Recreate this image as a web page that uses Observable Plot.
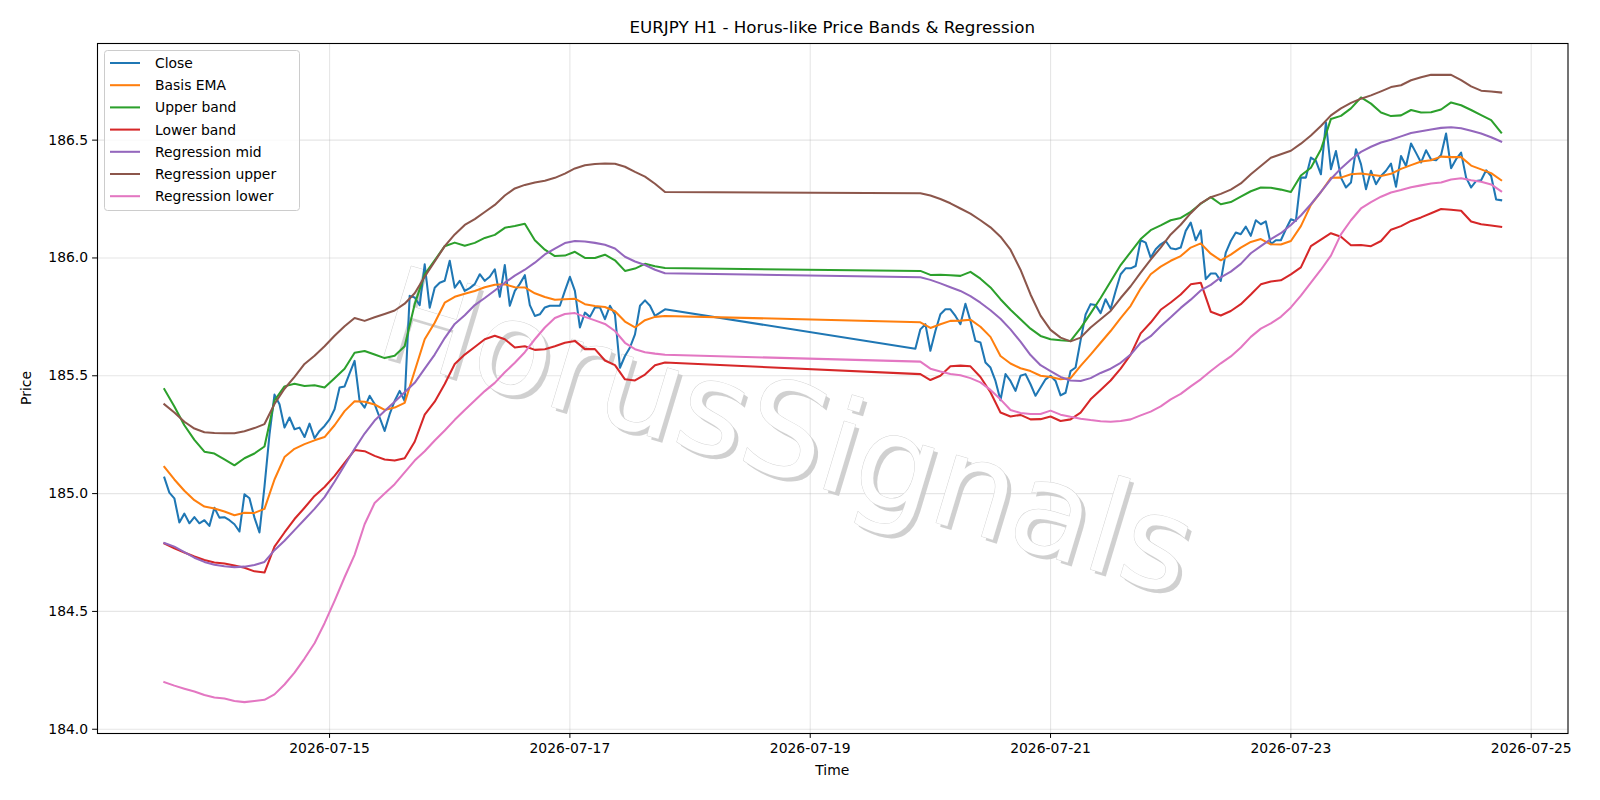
<!DOCTYPE html>
<html>
<head>
<meta charset="utf-8">
<script src="https://cdn.jsdelivr.net/npm/d3@7"></script>
<script src="https://cdn.jsdelivr.net/npm/@observablehq/plot@0.6"></script>
<style>
  html, body { margin: 0; padding: 0; background: #ffffff; }
  #fig { position: relative; width: 1600px; height: 800px; font-family: "DejaVu Sans", sans-serif; }
</style>
</head>
<body>
<div id="fig"></div>
<script>
// EURJPY hourly closes, two trading stretches split by the weekend.
const closeStart1 = "2026-07-13T15:00Z";
const closeSeg1 = [
  185.068, 185.004, 184.98, 184.877, 184.915, 184.874, 184.90, 184.874, 184.887, 184.863,
  184.94, 184.898, 184.90, 184.887, 184.87, 184.839, 184.997, 184.98, 184.898, 184.835,
  185.03, 185.25, 185.42, 185.379, 185.28, 185.323, 185.273, 185.28, 185.24, 185.297,
  185.235, 185.266, 185.287,
  185.315, 185.358, 185.45, 185.455, 185.51, 185.563, 185.393, 185.365, 185.415, 185.38,
  185.323, 185.266, 185.337, 185.393, 185.436, 185.393, 185.839, 185.832, 185.80, 185.973,
  185.789, 185.874, 185.895, 185.903, 185.988, 185.874, 185.903, 185.86, 185.872, 185.889,
  185.931, 185.903, 185.92, 185.952, 185.835, 185.97, 185.797, 185.86, 185.89, 185.927,
  185.80, 185.754, 185.761, 185.79, 185.797, 185.797, 185.797, 185.86, 185.92, 185.86,
  185.705, 185.768, 185.75, 185.79, 185.79, 185.74, 185.797, 185.76, 185.534, 185.584,
  185.62, 185.676, 185.797, 185.82, 185.797, 185.754, 185.768, 185.782
];
const closeStart2 = "2026-07-19T21:00Z";
const closeSeg2 = [
  185.615, 185.697, 185.719, 185.606, 185.69, 185.761, 185.782, 185.782, 185.754, 185.719,
  185.806, 185.733, 185.648, 185.641, 185.556, 185.535, 185.478, 185.396, 185.507, 185.478,
  185.436, 185.5, 185.507, 185.464, 185.415, 185.45, 185.485, 185.5, 185.478, 185.417,
  185.428, 185.52, 185.535, 185.65, 185.76, 185.804, 185.80, 185.766, 185.825, 185.783,
  185.86, 185.931, 185.956, 185.956, 185.966, 186.075, 186.065, 186.001, 186.037, 186.058,
  186.072, 186.041, 186.037, 186.044, 186.115, 186.15, 186.075, 186.117, 185.91, 185.934,
  185.934, 185.903, 186.023, 186.072, 186.108, 186.101, 186.133, 186.094, 186.16, 186.143,
  186.155, 186.058, 186.075, 186.075, 186.122, 186.164, 186.157, 186.341, 186.341, 186.426,
  186.412, 186.355, 186.575, 186.377, 186.454, 186.341, 186.299, 186.32, 186.461, 186.398,
  186.292, 186.37, 186.313, 186.348, 186.37, 186.4, 186.302, 186.433, 186.39, 186.486,
  186.446, 186.405, 186.457, 186.418, 186.415, 186.437, 186.528, 186.381, 186.419, 186.447,
  186.341, 186.299, 186.327, 186.33, 186.372, 186.348, 186.248, 186.245
];

// Band and regression lines, sampled every 2 hours:
// first 51 values from 2026-07-13 15:00, the rest from 2026-07-19 22:00.
const bandStart1 = "2026-07-13T15:00Z";
const bandStart2 = "2026-07-19T22:00Z";
const bandStepHours = 2;
const bandSeg1Count = 51;

const basisEma = [
  185.113, 185.06, 185.012, 184.972, 184.945, 184.937, 184.924, 184.908, 184.919, 184.918,
  184.935, 185.06, 185.155, 185.19, 185.21, 185.226, 185.24, 185.29, 185.35, 185.392,
  185.39, 185.378, 185.355, 185.365, 185.385, 185.52, 185.655, 185.725, 185.81, 185.835,
  185.848, 185.86, 185.876, 185.886, 185.888, 185.876, 185.875, 185.85, 185.834, 185.823,
  185.825, 185.827, 185.804, 185.796, 185.792, 185.774, 185.73, 185.705, 185.736, 185.75, 185.754,
  185.727, 185.703, 185.719, 185.733, 185.734, 185.738, 185.708, 185.665, 185.584, 185.552,
  185.532, 185.52, 185.50, 185.495, 185.485, 185.49, 185.542, 185.59, 185.64, 185.69,
  185.745, 185.797, 185.87, 185.931, 185.963, 185.988, 186.008, 186.044, 186.062, 186.018,
  185.99, 186.014, 186.044, 186.068, 186.08, 186.058, 186.057, 186.072, 186.135, 186.225,
  186.28, 186.34, 186.341, 186.355, 186.358, 186.353, 186.348, 186.357, 186.378, 186.394,
  186.409, 186.415, 186.43, 186.428, 186.428, 186.392, 186.376, 186.36, 186.33
];
const upperBand = [
  185.443, 185.37, 185.29, 185.228, 185.178, 185.17, 185.145, 185.12, 185.15, 185.17,
  185.2, 185.395, 185.455, 185.466, 185.457, 185.46, 185.45, 185.49, 185.53, 185.598,
  185.605, 185.59, 185.575, 185.585, 185.625, 185.804, 185.93, 185.99, 186.05, 186.065,
  186.052, 186.064, 186.085, 186.098, 186.128, 186.136, 186.145, 186.075, 186.035, 186.008,
  186.01, 186.026, 186.0, 186.0, 186.014, 185.99, 185.945, 185.955, 185.975, 185.965, 185.957,
  185.945, 185.928, 185.929, 185.927, 185.924, 185.941, 185.912, 185.875, 185.825, 185.78,
  185.74, 185.70, 185.669, 185.655, 185.651, 185.648, 185.702, 185.765, 185.83, 185.90,
  185.97, 186.025, 186.08, 186.118, 186.138, 186.16, 186.17, 186.196, 186.23, 186.258,
  186.228, 186.237, 186.26, 186.283, 186.299, 186.298, 186.29, 186.28, 186.35, 186.383,
  186.46, 186.59, 186.603, 186.635, 186.681, 186.655, 186.617, 186.602, 186.605, 186.628,
  186.617, 186.618, 186.63, 186.66, 186.648, 186.628, 186.606, 186.585, 186.532
];
const lowerBand = [
  184.788, 184.768, 184.75, 184.733, 184.718, 184.708, 184.703, 184.695, 184.685, 184.67,
  184.665, 184.775, 184.835, 184.892, 184.94, 184.99, 185.028, 185.075, 185.13, 185.185,
  185.18, 185.16, 185.145, 185.14, 185.15, 185.22, 185.335, 185.39, 185.465, 185.55,
  185.59, 185.622, 185.655, 185.67, 185.655, 185.62, 185.625, 185.61, 185.613, 185.625,
  185.64, 185.648, 185.613, 185.613, 185.565, 185.545, 185.485, 185.48, 185.505, 185.545, 185.556,
  185.507, 185.482, 185.5, 185.54, 185.543, 185.54, 185.495, 185.43, 185.344, 185.327,
  185.334, 185.315, 185.316, 185.327, 185.308, 185.315, 185.344, 185.40, 185.44, 185.48,
  185.53, 185.59, 185.68, 185.726, 185.78, 185.811, 185.845, 185.888, 185.895, 185.772,
  185.756, 185.775, 185.804, 185.845, 185.888, 185.90, 185.905, 185.93, 185.96, 186.05,
  186.078, 186.105, 186.09, 186.054, 186.055, 186.05, 186.072, 186.12, 186.135, 186.157,
  186.172, 186.19, 186.208, 186.205, 186.2, 186.155, 186.143, 186.138, 186.132
];
const regressionMid = [
  184.79, 184.775, 184.752, 184.728, 184.71, 184.698, 184.692, 184.688, 184.69, 184.697,
  184.71, 184.76, 184.80, 184.845, 184.89, 184.935, 184.985, 185.05, 185.12, 185.19,
  185.255, 185.31, 185.35, 185.39, 185.43, 185.47, 185.53, 185.59, 185.66, 185.72,
  185.757, 185.80, 185.83, 185.862, 185.895, 185.925, 185.95, 185.98, 186.015, 186.04,
  186.063, 186.072, 186.07, 186.064, 186.056, 186.04, 186.005, 185.985, 185.97, 185.95, 185.935,
  185.918, 185.907, 185.892, 185.876, 185.86, 185.838, 185.81, 185.778, 185.742, 185.697,
  185.645, 185.588, 185.545, 185.52, 185.495, 185.48, 185.478, 185.49, 185.512, 185.53,
  185.555, 185.59, 185.64, 185.668, 185.71, 185.748, 185.788, 185.823, 185.862, 185.886,
  185.918, 185.942, 185.975, 186.02, 186.05, 186.08, 186.105, 186.14, 186.18, 186.228,
  186.28, 186.335, 186.38, 186.418, 186.45, 186.472, 186.49, 186.502, 186.516, 186.53,
  186.538, 186.545, 186.552, 186.555, 186.55, 186.54, 186.528, 186.512, 186.494
];
const regressionUpper = [
  185.379, 185.344, 185.305, 185.276, 185.26, 185.257, 185.256, 185.256, 185.265, 185.278,
  185.295, 185.38, 185.445, 185.495, 185.55, 185.585, 185.625, 185.67, 185.71, 185.745,
  185.733, 185.748, 185.762, 185.777, 185.806, 185.85, 185.92, 185.985, 186.05, 186.1,
  186.14, 186.165, 186.195, 186.225, 186.265, 186.295, 186.31, 186.32, 186.328, 186.34,
  186.358, 186.38, 186.393, 186.399, 186.401, 186.4, 186.387, 186.365, 186.345, 186.315, 186.28,
  186.275, 186.265, 186.25, 186.232, 186.21, 186.188, 186.16, 186.13, 186.09, 186.035,
  185.95, 185.845, 185.755, 185.695, 185.662, 185.646, 185.662, 185.705, 185.74, 185.775,
  185.83, 185.88, 185.938, 185.993, 186.044, 186.10, 186.141, 186.19, 186.232, 186.258,
  186.272, 186.29, 186.316, 186.355, 186.39, 186.425, 186.44, 186.455, 186.485, 186.52,
  186.56, 186.605, 186.635, 186.658, 186.676, 186.69, 186.707, 186.725, 186.733, 186.754,
  186.767, 186.777, 186.777, 186.777, 186.755, 186.728, 186.71, 186.706, 186.702
];
const regressionLower = [
  184.20, 184.185, 184.172, 184.16, 184.145, 184.135, 184.13, 184.12, 184.115, 184.12,
  184.125, 184.148, 184.19, 184.24, 184.30, 184.365, 184.45, 184.545, 184.645, 184.74,
  184.87, 184.96, 185.0, 185.04, 185.09, 185.14, 185.18, 185.225, 185.268, 185.313,
  185.355, 185.395, 185.435, 185.47, 185.515, 185.555, 185.6, 185.655, 185.705, 185.745,
  185.762, 185.766, 185.75, 185.735, 185.72, 185.69, 185.64, 185.613, 185.6, 185.594, 185.589,
  185.56, 185.53, 185.518, 185.508, 185.502, 185.49, 185.472, 185.44, 185.40, 185.355,
  185.342, 185.338, 185.338, 185.352, 185.335, 185.326, 185.318, 185.312, 185.307, 185.305,
  185.308, 185.315, 185.332, 185.348, 185.37, 185.40, 185.423, 185.455, 185.485, 185.52,
  185.553, 185.582, 185.62, 185.665, 185.70, 185.722, 185.75, 185.79, 185.84, 185.895,
  185.95, 186.01, 186.10, 186.16, 186.21, 186.237, 186.26, 186.278, 186.288, 186.3,
  186.308, 186.316, 186.32, 186.333, 186.338, 186.33, 186.323, 186.312, 186.283
];

const seriesNames = ["Close", "Basis EMA", "Upper band", "Lower band", "Regression mid", "Regression upper", "Regression lower"];
const seriesColors = ["#1f77b4", "#ff7f0e", "#2ca02c", "#d62728", "#9467bd", "#8c564b", "#e377c2"];
const xTickLabels = ["2026-07-15", "2026-07-17", "2026-07-19", "2026-07-21", "2026-07-23", "2026-07-25"];
const yTickValues = [184.0, 184.5, 185.0, 185.5, 186.0, 186.5];

const HOUR = 3600 * 1000;

// Build {time, value} rows for each series.
function hourly(start, values) {
  const t0 = new Date(start).getTime();
  return values.map((v, i) => ({ time: new Date(t0 + i * HOUR), value: v }));
}
function banded(values) {
  const t1 = new Date(bandStart1).getTime();
  const t2 = new Date(bandStart2).getTime();
  return values.map((v, i) => ({
    time: new Date(i < bandSeg1Count ? t1 + i * bandStepHours * HOUR : t2 + (i - bandSeg1Count) * bandStepHours * HOUR),
    value: v
  }));
}

const closeRows = hourly(closeStart1, closeSeg1).concat(hourly(closeStart2, closeSeg2));
const seriesRows = [
  closeRows,
  banded(basisEma),
  banded(upperBand),
  banded(lowerBand),
  banded(regressionMid),
  banded(regressionUpper),
  banded(regressionLower)
];

// Axis limits: data extent plus a 5% margin on each side.
const allRows = seriesRows.flat();
const [tMin, tMax] = d3.extent(allRows, d => d.time.getTime());
const [vMin, vMax] = d3.extent(allRows, d => d.value);
const tPad = (tMax - tMin) * 0.05;
const vPad = (vMax - vMin) * 0.05;
const xDomain = [new Date(tMin - tPad), new Date(tMax + tPad)];
const yDomain = [vMin - vPad, vMax + vPad];
const xTicks = xTickLabels.map(s => new Date(s + "T00:00Z"));

const W = 1600, H = 800;
const mLeft = 97, mRight = 32.5, mTop = 43, mBottom = 67;
const fs = 13.9;

const gridStyle = { stroke: "#b0b0b0", strokeOpacity: 0.32, strokeWidth: 1.1 };

const markText = "HorusSignals";
const marks = [
  Plot.gridX({ ticks: xTicks, ...gridStyle }),
  Plot.gridY({ ticks: yTickValues, ...gridStyle }),
  // watermark: soft shadow then the light lettering
  Plot.text([markText], {
    frameAnchor: "middle", dx: -42, dy: 50, rotate: 16.8,
    fontSize: 129, fill: "#cbcbcb", fillOpacity: 0.9, text: d => d
  }),
  Plot.text([markText], {
    frameAnchor: "middle", dx: -46, dy: 46, rotate: 16.8,
    fontSize: 129, fill: "#ffffff", stroke: "#d4d4d4", strokeWidth: 1, text: d => d
  })
];
seriesRows.forEach((rows, i) => {
  marks.push(Plot.line(rows, {
    x: "time", y: "value", stroke: seriesColors[i], strokeWidth: 2.05,
    strokeLinejoin: "round", strokeLinecap: "square"
  }));
});
marks.push(
  Plot.frame({ stroke: "#000000", strokeWidth: 1.1 }),
  Plot.axisX({ ticks: xTicks, tickFormat: d3.utcFormat("%Y-%m-%d"), tickSize: 4.9, tickPadding: 4.5, label: null, stroke: "#000" }),
  Plot.axisY({ ticks: yTickValues, tickFormat: d => d.toFixed(1), tickSize: 4.9, tickPadding: 4.5, label: null, stroke: "#000" })
);

const plot = Plot.plot({
  width: W, height: H,
  marginLeft: mLeft, marginRight: mRight, marginTop: mTop, marginBottom: mBottom,
  style: { fontFamily: "'DejaVu Sans', sans-serif", fontSize: fs + "px", color: "#000", background: "#fff", overflow: "visible" },
  x: { type: "utc", domain: xDomain },
  y: { domain: yDomain },
  marks
});

document.getElementById("fig").appendChild(plot);

// Title, axis labels and legend drawn into the same SVG.
const svg = d3.select(plot);
const font = "'DejaVu Sans', sans-serif";
svg.append("text")
  .attr("x", (mLeft + W - mRight) / 2).attr("y", 33)
  .attr("text-anchor", "middle").attr("font-family", font).attr("font-size", 16.7).attr("fill", "#000")
  .text("EURJPY H1 - Horus-like Price Bands & Regression");
svg.append("text")
  .attr("x", (mLeft + W - mRight) / 2).attr("y", 775)
  .attr("text-anchor", "middle").attr("font-family", font).attr("font-size", fs).attr("fill", "#000")
  .text("Time");
svg.append("text")
  .attr("transform", `translate(30.5,${(mTop + H - mBottom) / 2}) rotate(-90)`)
  .attr("text-anchor", "middle").attr("font-family", font).attr("font-size", fs).attr("fill", "#000")
  .text("Price");

const lg = svg.append("g");
lg.append("rect")
  .attr("x", 104.5).attr("y", 50.5).attr("width", 195).attr("height", 160).attr("rx", 3)
  .attr("fill", "#ffffff").attr("fill-opacity", 0.8).attr("stroke", "#cccccc").attr("stroke-width", 1);
seriesNames.forEach((name, i) => {
  const cy = 63 + i * 22.2;
  lg.append("line").attr("x1", 110).attr("x2", 140).attr("y1", cy).attr("y2", cy)
    .attr("stroke", seriesColors[i]).attr("stroke-width", 2.05);
  lg.append("text").attr("x", 155).attr("y", cy).attr("dy", "0.36em")
    .attr("text-anchor", "start")
    .attr("font-family", font).attr("font-size", fs).attr("fill", "#000").text(name);
});
</script>
</body>
</html>
